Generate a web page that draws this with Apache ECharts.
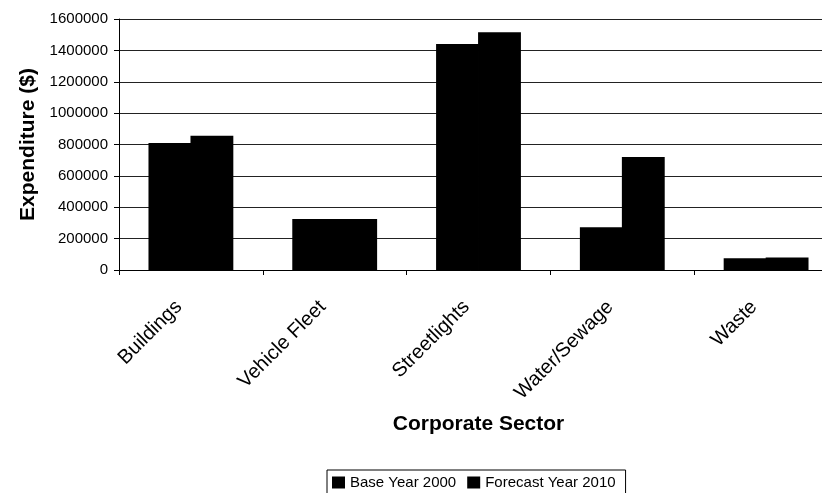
<!DOCTYPE html>
<html>
<head>
<meta charset="utf-8">
<script src="https://cdn.jsdelivr.net/npm/echarts@6/dist/echarts.min.js"></script>
<style>
  html, body { margin: 0; padding: 0; background: #fff; }
  #chart { width: 822px; height: 493px; }
</style>
</head>
<body>
<div id="chart"></div>
<script>
// Corporate energy expenditure by sector
const categories = ['Buildings', 'Vehicle Fleet', 'Streetlights', 'Water/Sewage', 'Waste'];
const baseYear2000 = [810000, 325000, 1440000, 272000, 75000];
const forecastYear2010 = [855000, 325000, 1515000, 720000, 80000];
const seriesNames = ['Base Year 2000', 'Forecast Year 2010'];

const FONT = '"Liberation Sans", Arial, Helvetica, sans-serif';

const chart = echarts.init(document.getElementById('chart'), null, { renderer: 'canvas' });

chart.setOption({
  animation: false,
  backgroundColor: '#ffffff',
  textStyle: { fontFamily: FONT, color: '#000' },
  grid: {
    left: 119, top: 19, right: -16, height: 251,
    containLabel: false,
    outerBoundsMode: 'none'
  },
  legend: {
    data: seriesNames,
    left: 327,
    top: 470,
    orient: 'horizontal',
    itemWidth: 13,
    itemHeight: 12,
    itemGap: 11,
    icon: 'rect',
    padding: [5, 10, 6, 5],
    borderColor: '#000',
    borderWidth: 1,
    borderRadius: 0,
    textStyle: { fontFamily: FONT, fontSize: 15, color: '#000' }
  },
  xAxis: {
    type: 'category',
    data: categories,
    boundaryGap: true,
    name: 'Corporate Sector',
    nameLocation: 'middle',
    nameGap: 144,
    nameTextStyle: { fontFamily: FONT, fontSize: 21, fontWeight: 'bold', color: '#000' },
    axisLine: { show: true, lineStyle: { color: '#000', width: 1 } },
    axisTick: { show: true, alignWithLabel: false, length: 5, lineStyle: { color: '#000' } },
    axisLabel: {
      rotate: 45,
      margin: 36,
      padding: [0, 7, 0, 0],
      verticalAlign: 'bottom',
      fontFamily: FONT,
      fontSize: 20,
      color: '#000',
      interval: 0
    },
    splitLine: { show: false }
  },
  yAxis: {
    type: 'value',
    min: 0,
    max: 1600000,
    interval: 200000,
    name: 'Expenditure ($)',
    nameLocation: 'middle',
    nameGap: 76,
    nameRotate: 90,
    nameTextStyle: { fontFamily: FONT, fontSize: 21, fontWeight: 'bold', color: '#000' },
    axisLine: { show: true, lineStyle: { color: '#000', width: 1 } },
    axisTick: { show: true, length: 5, lineStyle: { color: '#000' } },
    axisLabel: {
      margin: 11, fontFamily: FONT, fontSize: 15, color: '#000',
      formatter: function (v) { return String(v); }
    },
    splitLine: { show: true, lineStyle: { color: '#222', width: 1 } }
  },
  series: [
    {
      name: seriesNames[0],
      type: 'bar',
      data: baseYear2000,
      itemStyle: { color: '#000', borderWidth: 0 },
      barGap: '-2%',
      barCategoryGap: '41%'
    },
    {
      name: seriesNames[1],
      type: 'bar',
      data: forecastYear2010,
      itemStyle: { color: '#000', borderWidth: 0 },
      barGap: '-2%',
      barCategoryGap: '41%'
    }
  ]
});
</script>
</body>
</html>
